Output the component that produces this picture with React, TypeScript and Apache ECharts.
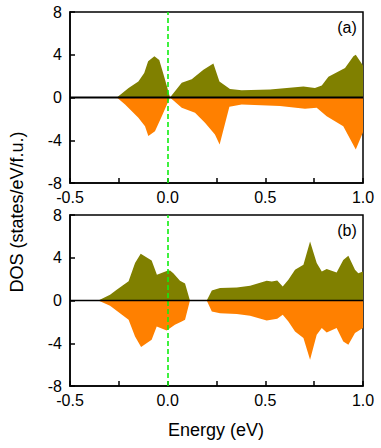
import React, { useEffect, useRef } from "react";
import * as echarts from "echarts";

// Panel (a)
const aUpX = [-0.26, -0.2, -0.15, -0.12, -0.1, -0.068, -0.043, -0.014, 0.012, 0.072, 0.123, 0.183, 0.234, 0.265, 0.319, 0.379, 0.524, 0.695, 0.754, 0.789, 0.823, 0.908, 0.951, 0.963, 1.0];
const aUpY = [0, 0.9, 1.5, 2.3, 3.4, 3.86, 3.5, 1.7, 0, 1.37, 1.7, 2.6, 3.18, 1.5, 0.8, 0.68, 0.75, 1.03, 0.9, 1.12, 1.93, 2.77, 3.86, 4.0, 3.0];
const aDnX = [-0.26, -0.218, -0.15, -0.116, -0.099, -0.065, -0.03, 0.012, 0.072, 0.14, 0.191, 0.242, 0.266, 0.316, 0.379, 0.575, 0.703, 0.763, 0.814, 0.899, 0.963, 1.0];
const aDnY = [0, -0.65, -1.9, -2.7, -3.6, -3.15, -1.75, 0, -0.97, -1.43, -2.37, -3.46, -4.4, -0.87, -0.65, -0.8, -1.06, -0.97, -1.75, -2.68, -4.86, -3.24];

// Panel (b)
const bUpX = [-0.355, -0.295, -0.261, -0.2, -0.167, -0.138, -0.082, -0.055, -0.005, 0.012, 0.029, 0.063, 0.089, 0.114, 0.2, 0.226, 0.268, 0.354, 0.422, 0.507, 0.533, 0.561, 0.589, 0.618, 0.652, 0.695, 0.729, 0.763, 0.789, 0.814, 0.865, 0.899, 0.925, 0.959, 0.976, 1.0];
const bUpY = [0, 0.53, 1.0, 1.8, 3.5, 4.37, 3.75, 2.4, 2.75, 2.8, 2.56, 1.84, 1.6, 0, 0, 0.94, 1.16, 1.22, 1.37, 1.84, 1.78, 1.87, 1.31, 1.94, 2.87, 3.34, 5.52, 3.5, 2.71, 2.94, 2.62, 3.8, 4.18, 2.87, 2.56, 2.71];
const bDnX = [-0.355, -0.295, -0.2, -0.167, -0.136, -0.082, -0.056, -0.005, 0.037, 0.072, 0.089, 0.114, 0.2, 0.226, 0.268, 0.354, 0.422, 0.507, 0.561, 0.589, 0.618, 0.652, 0.695, 0.729, 0.763, 0.789, 0.814, 0.865, 0.899, 0.925, 0.959, 1.0];
const bDnY = [0, -0.5, -1.8, -3.37, -4.36, -3.68, -2.43, -2.8, -2.27, -1.96, -1.8, 0, 0, -1.03, -1.2, -1.27, -1.43, -1.87, -1.7, -1.34, -1.96, -2.9, -3.52, -5.55, -3.2, -2.58, -3.0, -2.58, -3.83, -4.14, -3.05, -2.58];

const xTicks = [-0.5, 0.0, 0.5, 1.0];
const yTicks = [-8, -4, 0, 4, 8];
const panelLabels = ["(a)", "(b)"];

const OLIVE = "#808000";
const ORANGE = "#ff8000";
const GREEN = "#11ee11";
const FONT = "Liberation Sans, Arial, sans-serif";

const zip = (xs: number[], ys: number[]) => xs.map((x, i) => [x, ys[i]]);

export default function App() {
  const ref = useRef<HTMLDivElement>(null);
  useEffect(() => {
    if (!ref.current) return;
    const chart = echarts.init(ref.current, null, { renderer: "svg" });
    const grids = [
      { left: 70, top: 12, width: 293, height: 171 },
      { left: 70, top: 215, width: 293, height: 171 },
    ];
    const mkX = (gi: number) => ({
      type: "value",
      gridIndex: gi,
      min: xTicks[0],
      max: xTicks[xTicks.length - 1],
      interval: 0.5,
      axisLine: { onZero: false, lineStyle: { color: "#000", width: 1.5 } },
      axisTick: { inside: true, length: 5, lineStyle: { color: "#000", width: 1.5 } },
      minorTick: { show: true, splitNumber: 2, length: 5, lineStyle: { color: "#000", width: 1.5 } },
      splitLine: { show: false },
      axisLabel: {
        color: "#000",
        fontSize: 16,
        fontFamily: FONT,
        margin: 6,
        formatter: (v: number) => v.toFixed(1),
      },
    });
    const mkY = (gi: number) => ({
      type: "value",
      gridIndex: gi,
      min: yTicks[0],
      max: yTicks[yTicks.length - 1],
      interval: 4,
      axisLine: { onZero: false, lineStyle: { color: "#000", width: 1.5 } },
      axisTick: { inside: true, length: 5, lineStyle: { color: "#000", width: 1.5 } },
      splitLine: { show: false },
      axisLabel: { color: "#000", fontSize: 16, fontFamily: FONT, margin: 8 },
    });
    const panels = [
      [zip(aUpX, aUpY), zip(aDnX, aDnY)],
      [zip(bUpX, bUpY), zip(bDnX, bDnY)],
    ];
    const series: any[] = [];
    panels.forEach(([up, dn], gi) => {
      series.push({
        type: "line", xAxisIndex: gi, yAxisIndex: gi, data: up, symbol: "none",
        lineStyle: { width: 0 }, areaStyle: { color: OLIVE, opacity: 1, origin: 0 }, z: 2,
      });
      series.push({
        type: "line", xAxisIndex: gi, yAxisIndex: gi, data: dn, symbol: "none",
        lineStyle: { width: 0 }, areaStyle: { color: ORANGE, opacity: 1, origin: 0 }, z: 2,
        markLine: {
          silent: true,
          symbol: "none",
          label: { show: false },
          lineStyle: { color: GREEN, width: 1.6, type: [5, 3], opacity: 1 },
          data: [{ xAxis: 0 }],
          z: 3,
        },
      });
      series.push({
        type: "line", xAxisIndex: gi, yAxisIndex: gi,
        data: [[xTicks[0], 0], [xTicks[xTicks.length - 1], 0]], symbol: "none",
        lineStyle: { color: "#000", width: gi === 0 ? 2 : 1.6 }, z: 4,
      });
    });
    chart.setOption({
      animation: false,
      grid: grids.map((g) => ({ ...g, show: true, borderColor: "#000", borderWidth: 1.5, backgroundColor: "transparent" })),
      xAxis: [mkX(0), mkX(1)],
      yAxis: [mkY(0), mkY(1)],
      series,
      graphic: [
        {
          type: "text", x: 347, y: 27,
          style: { text: panelLabels[0], fontSize: 16, fontFamily: FONT, fill: "#000", textAlign: "center", textVerticalAlign: "middle" },
        },
        {
          type: "text", x: 347, y: 230,
          style: { text: panelLabels[1], fontSize: 16, fontFamily: FONT, fill: "#000", textAlign: "center", textVerticalAlign: "middle" },
        },
        {
          type: "text", x: 17, y: 212, rotation: Math.PI / 2,
          style: { text: "DOS (states/eV/f.u.)", fontSize: 18, fontFamily: FONT, fill: "#000", textAlign: "center", textVerticalAlign: "middle" },
        },
        {
          type: "text", x: 216, y: 430,
          style: { text: "Energy (eV)", fontSize: 18, fontFamily: FONT, fill: "#000", textAlign: "center", textVerticalAlign: "middle" },
        },
      ],
    });
    return () => chart.dispose();
  }, []);
  return <div ref={ref} style={{ position: "absolute", left: 0, top: 0, width: 381, height: 448 }} />;
}
